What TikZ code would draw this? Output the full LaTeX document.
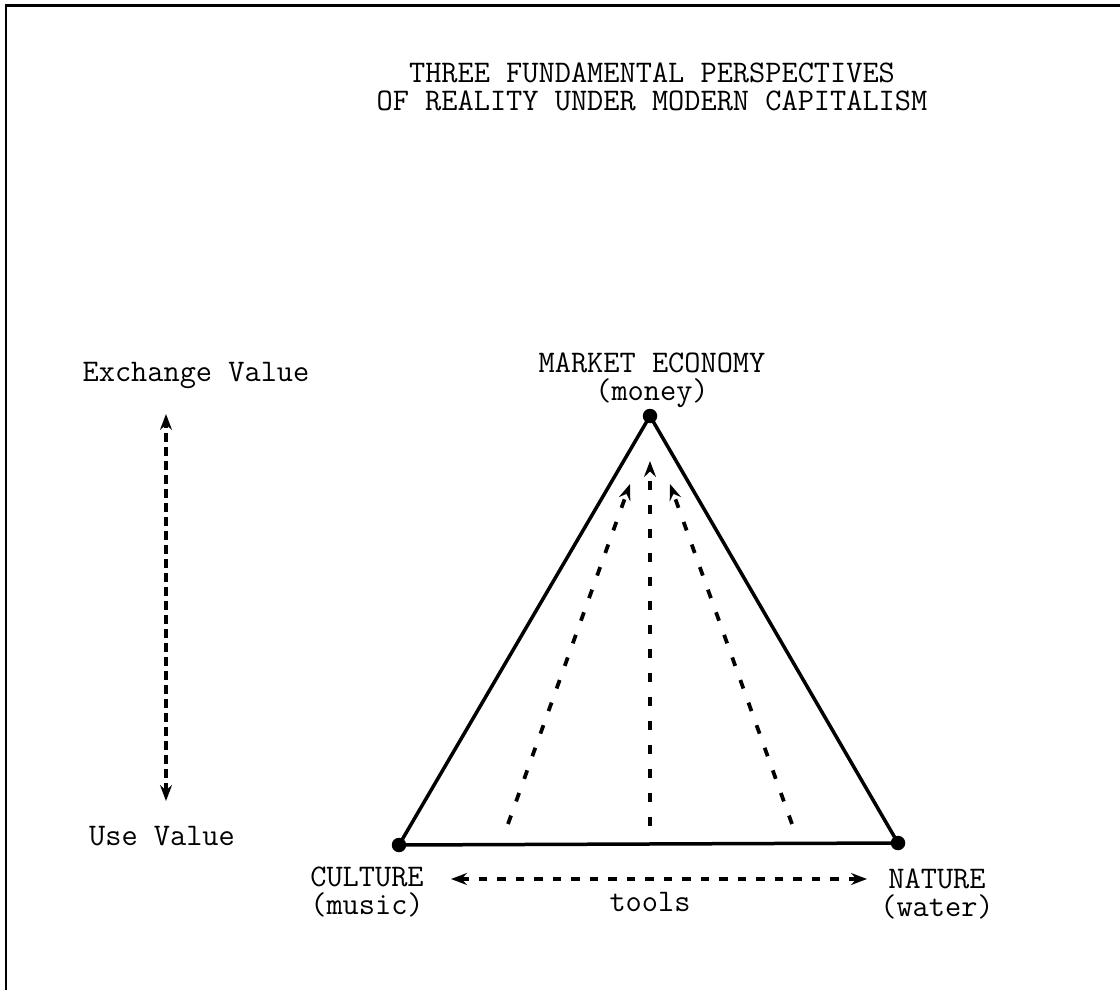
\documentclass[tikz,border=0pt]{standalone}
\usepackage{fontspec}
\usetikzlibrary{arrows.meta,positioning}

\tikzset{
  corner/.style={circle,fill,inner sep=0pt,minimum size=0.29cm},
  lbl/.style={align=center,inner sep=0pt,font=\ttfamily\fontsize{17.9}{15.9}\selectfont},
  edge/.style={line width=0.07cm},
  flow/.style={line width=0.075cm,dash pattern=on 0.18cm off 0.3cm,-{Stealth[length=0.32cm,width=0.24cm,inset=0.11cm]}},
  valuerange/.style={line width=0.08cm,dash pattern=on 0.17cm off 0.11cm,
    {Stealth[length=0.32cm,width=0.24cm,inset=0.11cm]}-{Stealth[length=0.32cm,width=0.24cm,inset=0.11cm]}},
}

\begin{document}
\begin{tikzpicture}[x=0.02cm,y=-0.02cm]
    \useasboundingbox (0,0) rectangle (1120,990);
    % frame
    \draw[line width=0.06cm] (6,995) -- (6,6) -- (1125,6);

    \node[lbl] (title) at (652,87) {THREE FUNDAMENTAL PERSPECTIVES\\OF REALITY UNDER MODERN CAPITALISM};

    % value axis
    \node[lbl] (exch) at (196,375) {Exchange Value};
    \node[lbl] (use) at (162,836) {Use Value};
    \coordinate (ytop) at (166,414);
    \coordinate (ybot) at (166,801);
    \draw[valuerange] (ybot) -- (ytop);

    % triangle
    \node[corner] (market) at (650,416) {};
    \node[corner] (culture) at (399,845) {};
    \node[corner] (nature) at (898,843) {};
    \draw[edge] (market.center) -- (culture.center) -- (nature.center) -- cycle;

    \node[lbl] (marketlbl) at (652,380) {MARKET ECONOMY\\(money)};
    \node[lbl] (culturelbl) at (367,892) {CULTURE\\(music)};
    \node[lbl] (naturelbl) at (937,894) {NATURE\\(water)};

    % commodification
    \coordinate (fl) at (508,824);
    \coordinate (fm) at (650,826);
    \coordinate (fr) at (792,824);
    \coordinate (tl) at (630,484);
    \coordinate (tm) at (650,461);
    \coordinate (tr) at (670,484);
    \draw[flow] (fl) -- (tl);
    \draw[flow] (fm) -- (tm);
    \draw[flow] (fr) -- (tr);

    % tools
    \coordinate (hl) at (451,879);
    \coordinate (hr) at (867,879);
    \draw[valuerange,dash pattern=on 0.17cm off 0.2cm] (hl) -- (hr);
    \node[lbl] (tools) at (650,902) {tools};
\end{tikzpicture}
\end{document}
